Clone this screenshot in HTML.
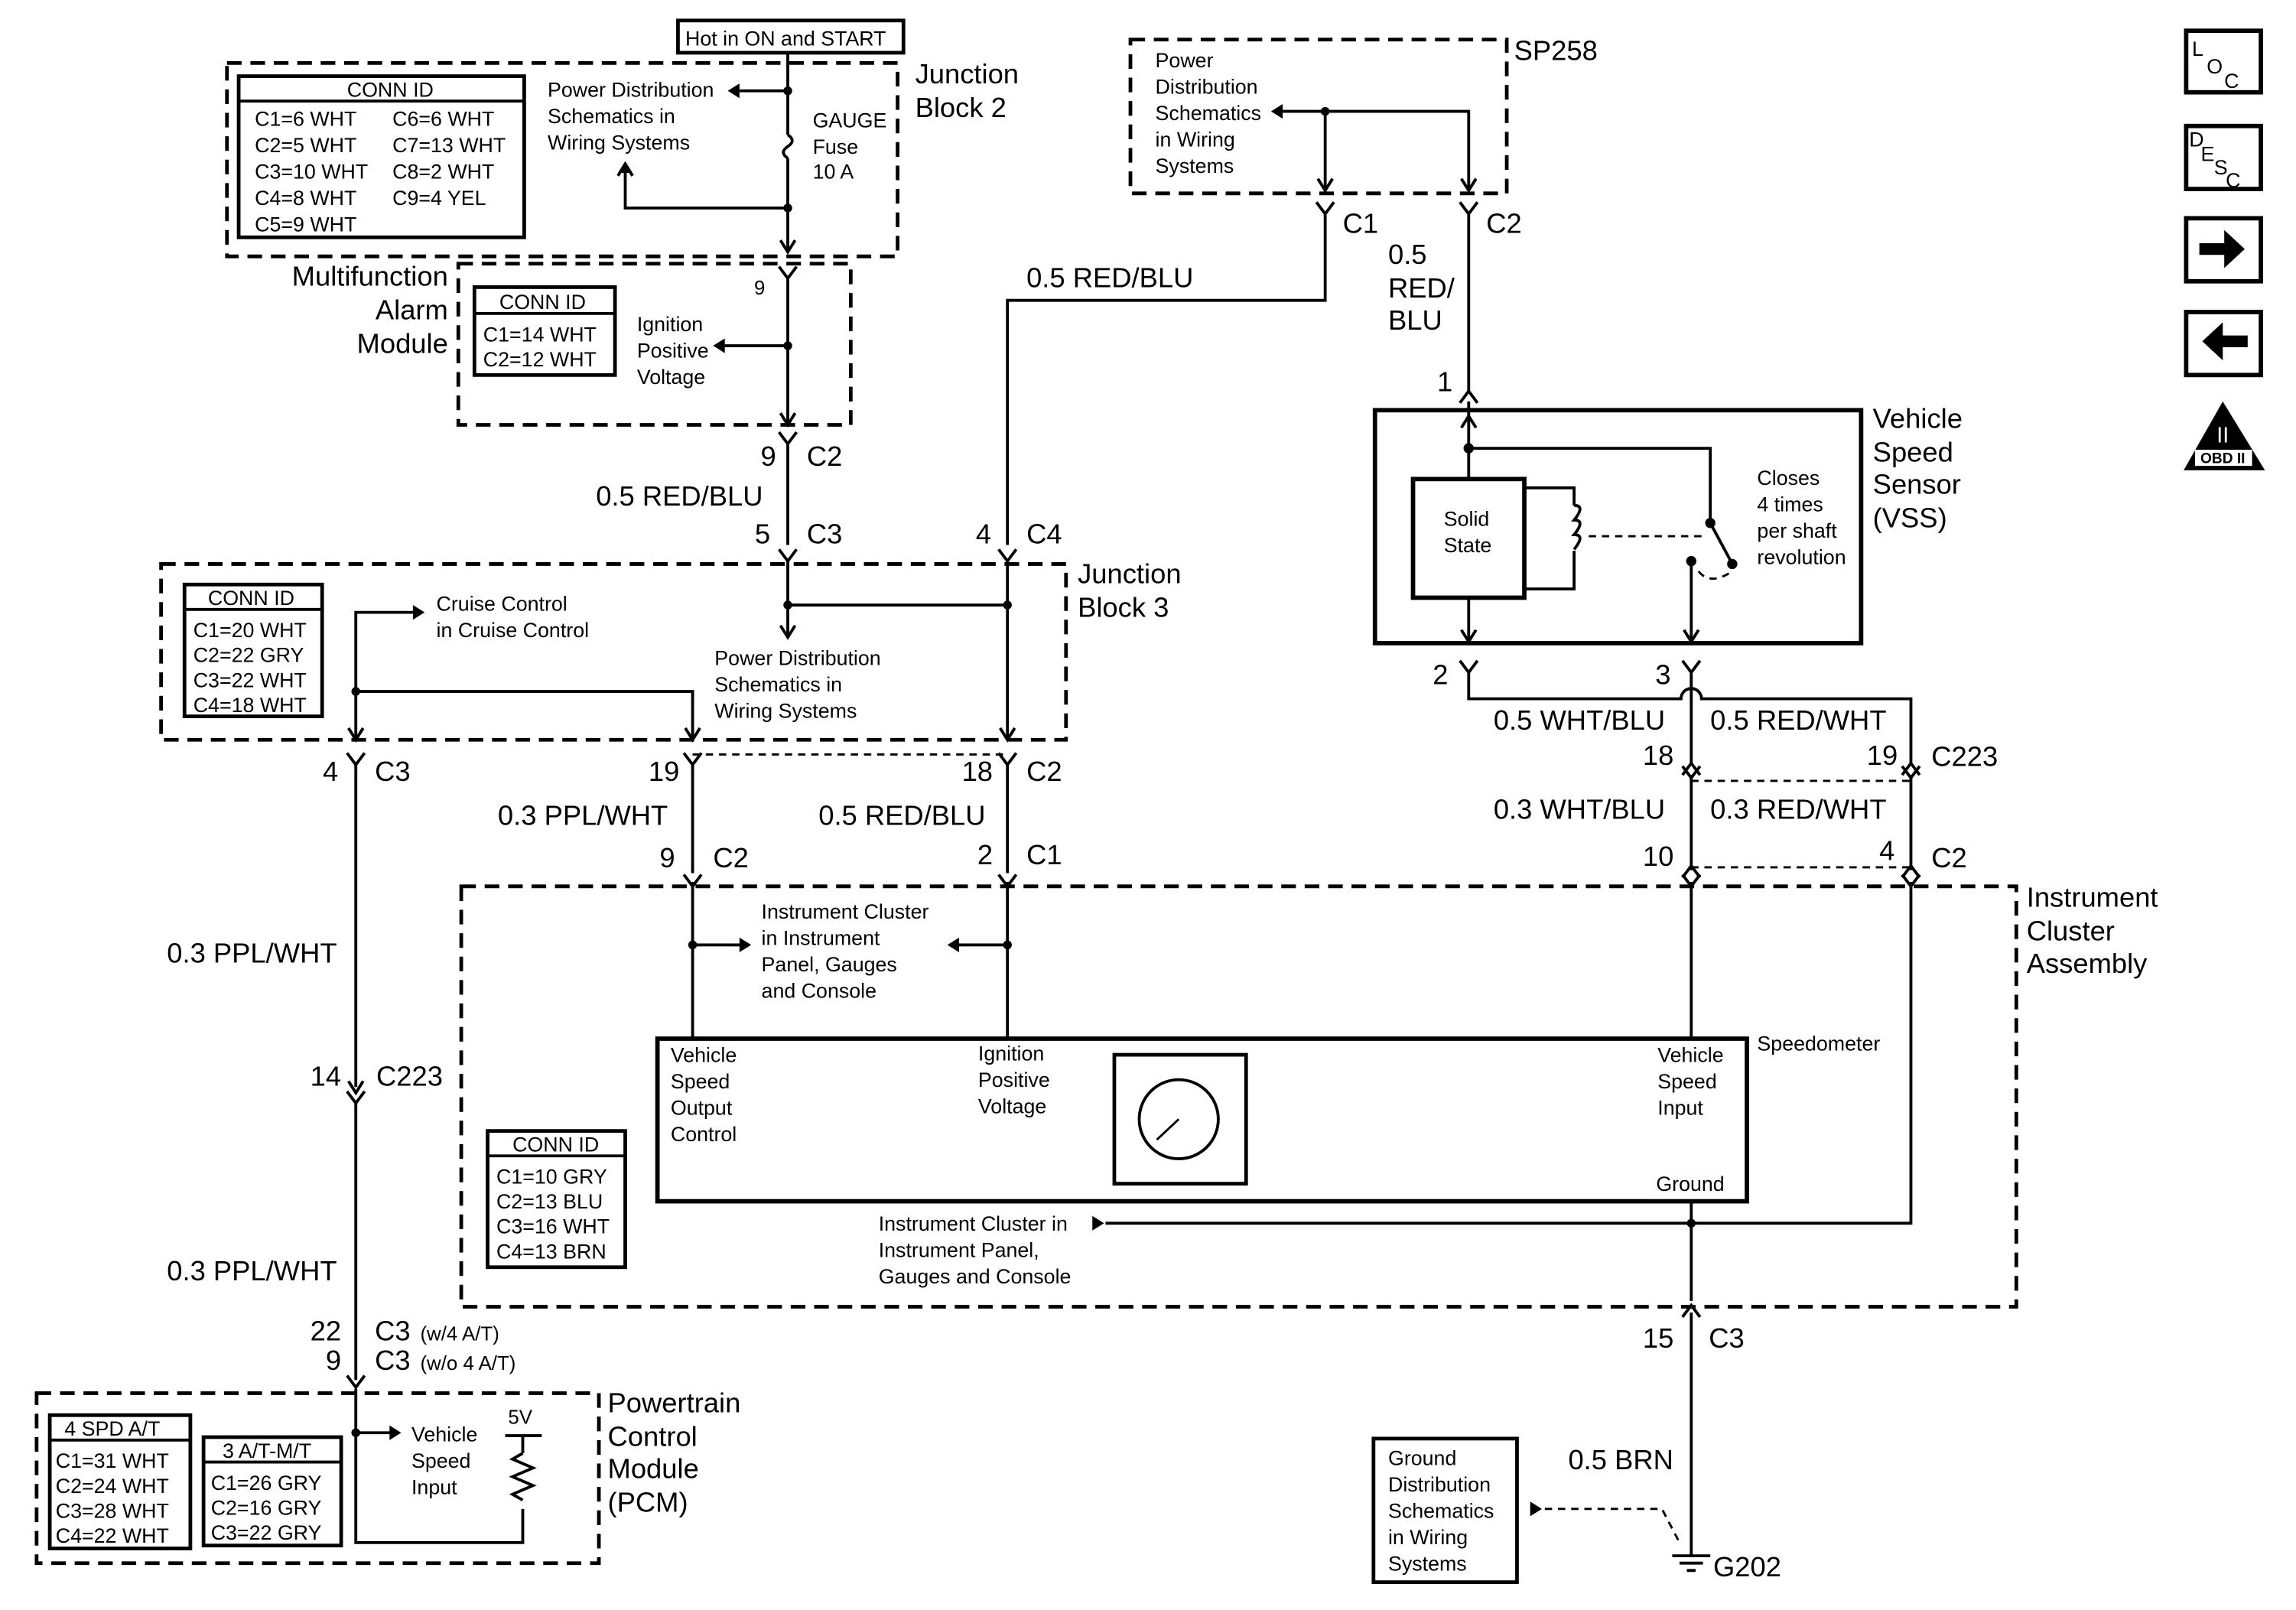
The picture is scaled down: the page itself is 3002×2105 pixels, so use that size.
<!DOCTYPE html>
<html><head><meta charset="utf-8"><style>
html,body{margin:0;padding:0;background:#fff}
svg{display:block}
text{font-family:"Liberation Sans",sans-serif;fill:#000}
.L{font-size:19px}.S{font-size:14px}.M{font-size:13.5px}
</style></head><body>
<svg width="3002" height="2105" viewBox="0 0 1568 1099" preserveAspectRatio="none" xmlns="http://www.w3.org/2000/svg">
<defs>
<path id="v" d="M-6,-7 L0,1 L6,-7" fill="none" stroke="#000" stroke-width="2"/>
<path id="u" d="M-6,7 L0,-1 L6,7" fill="none" stroke="#000" stroke-width="2"/>
<path id="ad" d="M-5,-8 L0,0 L5,-8" fill="none" stroke="#000" stroke-width="2"/>
<path id="au" d="M-5,8 L0,0 L5,8" fill="none" stroke="#000" stroke-width="2"/>
<path id="al" d="M0,-5 L-8,0 L0,5Z" fill="#000"/>
<path id="ar" d="M0,-5 L8,0 L0,5Z" fill="#000"/>
</defs>
<g fill="none" stroke="#000" stroke-width="2">
<g stroke-dasharray="10 6" stroke-width="2.5">
<rect x="155" y="43" width="458" height="132"/>
<rect x="313" y="180" width="268" height="110"/>
<rect x="110" y="385" width="618" height="120"/>
<rect x="315" y="605" width="1062" height="287"/>
<rect x="25" y="951" width="384" height="116"/>
<rect x="772" y="27" width="257" height="105"/>
</g>
<g stroke-dasharray="5 4" stroke-width="1.5">
<line x1="473" y1="515" x2="688" y2="515"/>
<line x1="1155" y1="533" x2="1305" y2="533"/>
<line x1="1155" y1="592" x2="1305" y2="592"/>
<path d="M1055,1030 L1135,1030 L1147,1053"/>
<line x1="1085" y1="366" x2="1165" y2="366"/>
<path d="M1160,390 Q1168,400 1183,390"/>
</g>
<rect x="463" y="14" width="154" height="22" stroke-width="2.5"/>
<rect x="163" y="52" width="195" height="110" stroke-width="2.5"/><line x1="163" y1="69" x2="358" y2="69"/>
<rect x="324" y="196" width="96" height="60" stroke-width="2.5"/><line x1="324" y1="214" x2="420" y2="214"/>
<rect x="126" y="399" width="94" height="90" stroke-width="2.5"/><line x1="126" y1="416" x2="220" y2="416"/>
<rect x="333" y="772" width="94" height="93" stroke-width="2.5"/><line x1="333" y1="789" x2="427" y2="789"/>
<rect x="34" y="966" width="96" height="91" stroke-width="2.5"/><line x1="34" y1="983" x2="130" y2="983"/>
<rect x="139" y="981" width="94" height="74" stroke-width="2.5"/><line x1="139" y1="998" x2="233" y2="998"/>
<rect x="449" y="709" width="744" height="111" stroke-width="3"/>
<rect x="761" y="720" width="90" height="88" stroke-width="2.5"/>
<circle cx="805" cy="764" r="27"/>
<rect x="939" y="280" width="332" height="159" stroke-width="3"/>
<rect x="965" y="327" width="76" height="81" stroke-width="3"/>
<rect x="938" y="982" width="98" height="98" stroke-width="2.5"/>
<path d="M538,36 V92 M538,108 V170"/>
<path d="M538,92 q6,4 0,8 q-6,4 0,8"/>
<line x1="538" y1="62" x2="505" y2="62"/>
<path d="M538,142 H427 V115"/>
<path d="M538,190 V288"/>
<line x1="538" y1="236" x2="495" y2="236"/>
<path d="M538,302 V372"/>
<path d="M905,76 V128 M905,76 H1003 V128 M905,76 H876"/>
<path d="M905,145 V205 H688 V372"/>
<path d="M1003,145 V268"/>
<path d="M538,382 V433 M538,413 H688 M688,382 V503"/>
<path d="M243,505 V418 H288 M243,472 H473 V503"/>
<path d="M243,520 V742 M243,752 V942 M243,948 V1053 H357 V1030 M357,980 V992 M345,980 H370 M243,978 H272"/>
<path d="M357,992 l-7,4 l14,6 l-14,6 l14,6 l-14,6 l7,4"/>
<path d="M473,520 V596 M688,520 V596"/>
<path d="M473,602 V709 M688,602 V709 M473,645 H505 M688,645 H655"/>
<path d="M1155,602 V709 M1305,602 V835 H755 M1155,820 V888"/>
<path d="M1003,274 V327 M1003,306 H1168 V357 M1168,357 L1182,383"/>
<path d="M1003,408 V437 M1155,383 V437"/>
<path d="M1041,333 H1075 V345 M1041,402 H1075 V376"/>
<path d="M1075,345 q8,0 0,10 q8,0 0,10 q8,0 0,10"/>
<path d="M1003,458 V477 H1148 a7,7 0 0 1 14,0 H1305 V521"/>
<path d="M1155,458 V521 M1155,529 V594 M1305,529 V594"/>
<path d="M1155,896 V1062"/>
<path d="M1142,1062 H1168 M1147,1067 H1163 M1152,1072 H1158" stroke-width="2"/>
<path d="M805,764 L790,778" stroke-width="1.5"/>
<path d="M1518,276 L1493,320 H1545Z" fill="#000"/>
</g>
<g fill="#000">
<circle cx="538" cy="62" r="3"/><circle cx="538" cy="142" r="3"/><circle cx="538" cy="236" r="3"/>
<circle cx="905" cy="76" r="3"/><circle cx="538" cy="413" r="3"/><circle cx="688" cy="413" r="3"/>
<circle cx="243" cy="472" r="3"/><circle cx="473" cy="645" r="3"/><circle cx="688" cy="645" r="3"/>
<circle cx="1155" cy="835" r="3"/><circle cx="243" cy="978" r="3"/><circle cx="1003" cy="306" r="3.5"/>
<circle cx="1168" cy="357" r="3.5"/><circle cx="1183" cy="385" r="3.5"/><circle cx="1155" cy="383" r="3.5"/>
<use href="#al" x="505" y="62"/><use href="#al" x="495" y="236"/><use href="#al" x="876" y="76"/>
<use href="#ar" x="282" y="418"/><use href="#ar" x="505" y="645"/><use href="#al" x="655" y="645"/>
<use href="#ar" x="746" y="835"/><use href="#ar" x="266" y="978"/><use href="#ar" x="1045" y="1030"/>
<path d="M427,110 l-5,8 h10z"/>
</g>
<use href="#ad" x="538" y="172"/><use href="#ad" x="538" y="290"/><use href="#ad" x="538" y="435"/>
<use href="#ad" x="688" y="505"/><use href="#ad" x="473" y="505"/><use href="#ad" x="243" y="505"/>
<use href="#ad" x="905" y="130"/><use href="#ad" x="1003" y="130"/><use href="#ad" x="1003" y="438"/><use href="#ad" x="1155" y="438"/>
<use href="#au" x="1003" y="284"/><use href="#au" x="427" y="112"/>
<use href="#v" x="538" y="189"/><use href="#v" x="538" y="302"/><use href="#v" x="538" y="382"/><use href="#v" x="688" y="382"/>
<use href="#v" x="905" y="145"/><use href="#v" x="1003" y="145"/><use href="#u" x="1003" y="268"/>
<use href="#v" x="1003" y="458"/><use href="#v" x="1155" y="458"/>
<use href="#v" x="243" y="521"/><use href="#v" x="473" y="521"/><use href="#v" x="688" y="521"/>
<use href="#u" x="1155" y="522"/><use href="#u" x="1305" y="522"/><use href="#v" x="1155" y="530"/><use href="#v" x="1305" y="530"/>
<use href="#v" x="473" y="604"/><use href="#v" x="688" y="604"/><use href="#v" x="1155" y="604"/><use href="#v" x="1305" y="604"/>
<use href="#u" x="1155" y="592"/><use href="#u" x="1305" y="592"/>
<use href="#v" x="243" y="752"/><use href="#v" x="243" y="946"/><use href="#u" x="1155" y="892"/>
<use href="#ad" x="243" y="746"/>
<g fill="none" stroke="#000" stroke-width="3">
<rect x="1493" y="21" width="51" height="42"/><rect x="1493" y="86" width="51" height="43"/>
<rect x="1493" y="149" width="51" height="43"/><rect x="1493" y="213" width="51" height="43"/>
</g>
<path d="M1502,166 h17 v-9 l14,13 l-14,13 v-9 h-17z" fill="#000"/>
<path d="M1535,229 h-17 v-9 l-14,13 l14,13 v-9 h17z" fill="#000"/>
<rect x="1499" y="307" width="39" height="11" fill="#fff"/>
<text x="1518" y="316" font-size="10" text-anchor="middle" font-weight="bold">OBD II</text>
<text x="1518" y="302" font-size="15" text-anchor="middle" style="fill:#fff">II</text>
<text x="1497" y="38" class="S">L</text><text x="1507" y="50" class="S">O</text><text x="1519" y="60" class="S">C</text>
<text x="1495" y="100" class="S">D</text><text x="1503" y="110" class="S">E</text><text x="1512" y="119" class="S">S</text><text x="1520" y="128" class="S">C</text>
<g class="S">
<text x="468" y="31">Hot in ON and START</text>
<text x="237" y="66">CONN ID</text>
<text x="174" y="86">C1=6 WHT</text><text x="174" y="104">C2=5 WHT</text><text x="174" y="122">C3=10 WHT</text><text x="174" y="140">C4=8 WHT</text><text x="174" y="158">C5=9 WHT</text>
<text x="268" y="86">C6=6 WHT</text><text x="268" y="104">C7=13 WHT</text><text x="268" y="122">C8=2 WHT</text><text x="268" y="140">C9=4 YEL</text>
<text x="374" y="66">Power Distribution</text><text x="374" y="84">Schematics in</text><text x="374" y="102">Wiring Systems</text>
<text x="555" y="87">GAUGE</text><text x="555" y="105">Fuse</text><text x="555" y="122">10 A</text>
<text x="515" y="201" class="M">9</text>
<text x="341" y="211">CONN ID</text><text x="330" y="233">C1=14 WHT</text><text x="330" y="250">C2=12 WHT</text>
<text x="435" y="226">Ignition</text><text x="435" y="244">Positive</text><text x="435" y="262">Voltage</text>
<text x="142" y="413">CONN ID</text><text x="132" y="435">C1=20 WHT</text><text x="132" y="452">C2=22 GRY</text><text x="132" y="469">C3=22 WHT</text><text x="132" y="486">C4=18 WHT</text>
<text x="298" y="417">Cruise Control</text><text x="298" y="435">in Cruise Control</text>
<text x="488" y="454">Power Distribution</text><text x="488" y="472">Schematics in</text><text x="488" y="490">Wiring Systems</text>
<text x="520" y="627">Instrument Cluster</text><text x="520" y="645">in Instrument</text><text x="520" y="663">Panel, Gauges</text><text x="520" y="681">and Console</text>
<text x="458" y="725">Vehicle</text><text x="458" y="743">Speed</text><text x="458" y="761">Output</text><text x="458" y="779">Control</text>
<text x="668" y="724">Ignition</text><text x="668" y="742">Positive</text><text x="668" y="760">Voltage</text>
<text x="1132" y="725">Vehicle</text><text x="1132" y="743">Speed</text><text x="1132" y="761">Input</text>
<text x="1131" y="813">Ground</text><text x="1200" y="717">Speedometer</text>
<text x="600" y="840">Instrument Cluster in</text><text x="600" y="858">Instrument Panel,</text><text x="600" y="876">Gauges and Console</text>
<text x="350" y="786">CONN ID</text><text x="339" y="808">C1=10 GRY</text><text x="339" y="825">C2=13 BLU</text><text x="339" y="842">C3=16 WHT</text><text x="339" y="859">C4=13 BRN</text>
<text x="44" y="980">4 SPD A/T</text><text x="38" y="1002">C1=31 WHT</text><text x="38" y="1019">C2=24 WHT</text><text x="38" y="1036">C3=28 WHT</text><text x="38" y="1053">C4=22 WHT</text>
<text x="152" y="995">3 A/T-M/T</text><text x="144" y="1017">C1=26 GRY</text><text x="144" y="1034">C2=16 GRY</text><text x="144" y="1051">C3=22 GRY</text>
<text x="281" y="984">Vehicle</text><text x="281" y="1002">Speed</text><text x="281" y="1020">Input</text>
<text x="347" y="972" class="M">5V</text>
<text x="789" y="46">Power</text><text x="789" y="64">Distribution</text><text x="789" y="82">Schematics</text><text x="789" y="100">in Wiring</text><text x="789" y="118">Systems</text>
<text x="986" y="359">Solid</text><text x="986" y="377">State</text>
<text x="1200" y="331">Closes</text><text x="1200" y="349">4 times</text><text x="1200" y="367">per shaft</text><text x="1200" y="385">revolution</text>
<text x="948" y="1000">Ground</text><text x="948" y="1018">Distribution</text><text x="948" y="1036">Schematics</text><text x="948" y="1054">in Wiring</text><text x="948" y="1072">Systems</text>
<text x="287" y="915" class="M">(w/4 A/T)</text><text x="287" y="935" class="M">(w/o 4 A/T)</text>
</g>
<g class="L">
<text x="625" y="57">Junction</text><text x="625" y="80">Block 2</text>
<text x="306" y="195" text-anchor="end">Multifunction</text><text x="306" y="218" text-anchor="end">Alarm</text><text x="306" y="241" text-anchor="end">Module</text>
<text x="530" y="318" text-anchor="end">9</text><text x="551" y="318">C2</text>
<text x="407" y="345">0.5 RED/BLU</text>
<text x="526" y="371" text-anchor="end">5</text><text x="551" y="371">C3</text>
<text x="677" y="371" text-anchor="end">4</text><text x="701" y="371">C4</text>
<text x="701" y="196">0.5 RED/BLU</text>
<text x="736" y="398">Junction</text><text x="736" y="421">Block 3</text>
<text x="231" y="533" text-anchor="end">4</text><text x="256" y="533">C3</text>
<text x="464" y="533" text-anchor="end">19</text>
<text x="678" y="533" text-anchor="end">18</text><text x="701" y="533">C2</text>
<text x="340" y="563">0.3 PPL/WHT</text><text x="559" y="563">0.5 RED/BLU</text>
<text x="461" y="592" text-anchor="end">9</text><text x="487" y="592">C2</text>
<text x="678" y="590" text-anchor="end">2</text><text x="701" y="590">C1</text>
<text x="114" y="657">0.3 PPL/WHT</text>
<text x="233" y="741" text-anchor="end">14</text><text x="257" y="741">C223</text>
<text x="114" y="874">0.3 PPL/WHT</text>
<text x="233" y="915" text-anchor="end">22</text><text x="256" y="915">C3</text>
<text x="233" y="935" text-anchor="end">9</text><text x="256" y="935">C3</text>
<text x="415" y="964">Powertrain</text><text x="415" y="987">Control</text><text x="415" y="1009">Module</text><text x="415" y="1032">(PCM)</text>
<text x="1384" y="619">Instrument</text><text x="1384" y="642">Cluster</text><text x="1384" y="664">Assembly</text>
<text x="1034" y="41">SP258</text>
<text x="917" y="159">C1</text><text x="1015" y="159">C2</text>
<text x="948" y="180">0.5</text><text x="948" y="203">RED/</text><text x="948" y="225">BLU</text>
<text x="992" y="267" text-anchor="end">1</text>
<text x="1279" y="292">Vehicle</text><text x="1279" y="315">Speed</text><text x="1279" y="337">Sensor</text><text x="1279" y="360">(VSS)</text>
<text x="989" y="467" text-anchor="end">2</text><text x="1141" y="467" text-anchor="end">3</text>
<text x="1020" y="498">0.5 WHT/BLU</text><text x="1168" y="498">0.5 RED/WHT</text>
<text x="1143" y="522" text-anchor="end">18</text><text x="1296" y="522" text-anchor="end">19</text><text x="1319" y="523">C223</text>
<text x="1020" y="559">0.3 WHT/BLU</text><text x="1168" y="559">0.3 RED/WHT</text>
<text x="1143" y="591" text-anchor="end">10</text><text x="1294" y="587" text-anchor="end">4</text><text x="1319" y="592">C2</text>
<text x="1143" y="920" text-anchor="end">15</text><text x="1167" y="920">C3</text>
<text x="1071" y="1003">0.5 BRN</text>
<text x="1170" y="1076">G202</text>
</g>
</svg>
</body></html>
